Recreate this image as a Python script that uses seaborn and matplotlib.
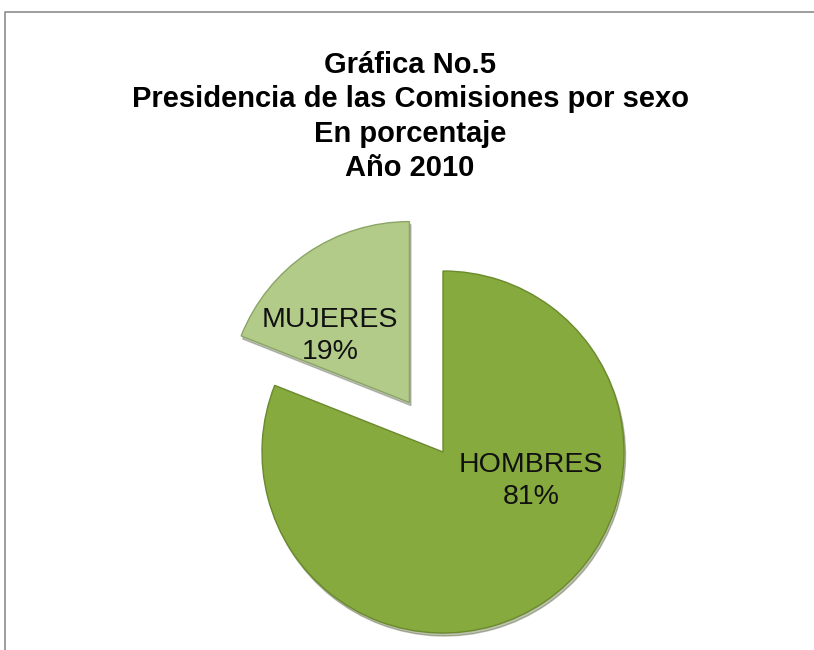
import matplotlib
matplotlib.use("Agg")
import matplotlib.pyplot as plt
from matplotlib.lines import Line2D
import seaborn as sns

# data
categories = ["HOMBRES", "MUJERES"]
values = [81, 19]
colors = ["#87aa3e", "#b2cb89"]
explode = [0.0, 0.33]
title_lines = ["Gráfica No.5", "Presidencia de las Comisiones por sexo", "En porcentaje", "Año 2010"]

sns.set_theme(style="white")
plt.rcParams["font.family"] = ["Liberation Sans", "DejaVu Sans"]

W, H = 814, 650
fig = plt.figure(figsize=(W / 100, H / 100), dpi=100)
ax = fig.add_axes([0, 0, 1, 1])

cx, cy, r = 443.0, 452.0, 181.0  # pixel center/radius of the pie

wedges, _ = ax.pie(values, colors=colors, startangle=90, counterclock=False,
                   explode=explode, radius=1.0,
                   wedgeprops=dict(edgecolor="#6a8a2c", linewidth=1.0),
                   shadow=dict(ox=0.006, oy=-0.012, shade=0.55, alpha=0.35))
wedges[1].set_edgecolor("#8aa565")

ax.set_xlim(-cx / r, (W - cx) / r)
ax.set_ylim(-(H - cy) / r, cy / r)
ax.set_aspect("auto")
ax.axis("off")

def px(x, y):
    return ((x - cx) / r, (cy - y) / r)

labels = [f"{c}\n{v}%" for c, v in zip(categories, values)]
ax.text(*px(531, 481), labels[0], ha="center", va="center", fontsize=20.5,
        color="#111111", linespacing=1.28)
ax.text(*px(330, 336), labels[1], ha="center", va="center", fontsize=20.5,
        color="#111111", linespacing=1.3)

fig.text(410 / W, 1 - 116.5 / H, "\n".join(title_lines), ha="center", va="center",
         fontsize=21, fontweight="bold", color="black", linespacing=1.3)

# outer frame (top and left visible)
fig.add_artist(Line2D([5 / W, 5 / W, 1.0], [0.0, 1 - 12 / H, 1 - 12 / H],
                      transform=fig.transFigure, color="#8c8c8c", linewidth=1.2))

fig.savefig("out.png", dpi=100)
